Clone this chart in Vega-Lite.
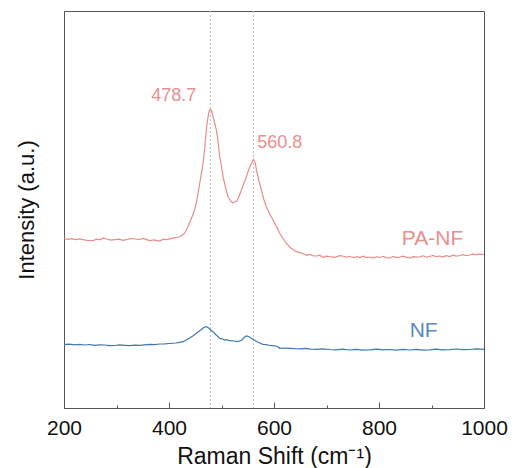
{
  "$schema": "https://vega.github.io/schema/vega-lite/v6.json",
  "width": 420,
  "height": 397,
  "autosize": "none",
  "padding": {"left": 64, "top": 11, "right": 28, "bottom": 60},
  "background": "white",
  "config": {
    "font": "Liberation Sans",
    "view": {"stroke": "#555555", "strokeWidth": 1}
  },
  "datasets": {
    "spectra": [
      {"series": "PA-NF", "shift": 200, "intensity": 169.5},
      {"series": "PA-NF", "shift": 207, "intensity": 168.6},
      {"series": "PA-NF", "shift": 215, "intensity": 169.4},
      {"series": "PA-NF", "shift": 222, "intensity": 168.4},
      {"series": "PA-NF", "shift": 230, "intensity": 169.2},
      {"series": "PA-NF", "shift": 238, "intensity": 168.2},
      {"series": "PA-NF", "shift": 245, "intensity": 167.6},
      {"series": "PA-NF", "shift": 255, "intensity": 167.3},
      {"series": "PA-NF", "shift": 262, "intensity": 168.9},
      {"series": "PA-NF", "shift": 268, "intensity": 168.2},
      {"series": "PA-NF", "shift": 275, "intensity": 170.1},
      {"series": "PA-NF", "shift": 281, "intensity": 169.0},
      {"series": "PA-NF", "shift": 289, "intensity": 167.8},
      {"series": "PA-NF", "shift": 297, "intensity": 168.4},
      {"series": "PA-NF", "shift": 305, "intensity": 168.8},
      {"series": "PA-NF", "shift": 312, "intensity": 167.6},
      {"series": "PA-NF", "shift": 319, "intensity": 168.3},
      {"series": "PA-NF", "shift": 327, "intensity": 169.5},
      {"series": "PA-NF", "shift": 335, "intensity": 169.0},
      {"series": "PA-NF", "shift": 342, "intensity": 168.3},
      {"series": "PA-NF", "shift": 350, "intensity": 169.6},
      {"series": "PA-NF", "shift": 356, "intensity": 168.6},
      {"series": "PA-NF", "shift": 363, "intensity": 167.4},
      {"series": "PA-NF", "shift": 372, "intensity": 168.2},
      {"series": "PA-NF", "shift": 382, "intensity": 167.0},
      {"series": "PA-NF", "shift": 389, "intensity": 168.8},
      {"series": "PA-NF", "shift": 396, "intensity": 168.4},
      {"series": "PA-NF", "shift": 402, "intensity": 169.2},
      {"series": "PA-NF", "shift": 407, "intensity": 169.8},
      {"series": "PA-NF", "shift": 414, "intensity": 170.3},
      {"series": "PA-NF", "shift": 420, "intensity": 171.3},
      {"series": "PA-NF", "shift": 425, "intensity": 172.6},
      {"series": "PA-NF", "shift": 430, "intensity": 175},
      {"series": "PA-NF", "shift": 436, "intensity": 181.3},
      {"series": "PA-NF", "shift": 443, "intensity": 190},
      {"series": "PA-NF", "shift": 448, "intensity": 197},
      {"series": "PA-NF", "shift": 452, "intensity": 205},
      {"series": "PA-NF", "shift": 458, "intensity": 223},
      {"series": "PA-NF", "shift": 465, "intensity": 245},
      {"series": "PA-NF", "shift": 468, "intensity": 260},
      {"series": "PA-NF", "shift": 471, "intensity": 278},
      {"series": "PA-NF", "shift": 474, "intensity": 290},
      {"series": "PA-NF", "shift": 476.5, "intensity": 297},
      {"series": "PA-NF", "shift": 478.7, "intensity": 298.8},
      {"series": "PA-NF", "shift": 481, "intensity": 297.5},
      {"series": "PA-NF", "shift": 484, "intensity": 291.3},
      {"series": "PA-NF", "shift": 487, "intensity": 285},
      {"series": "PA-NF", "shift": 490.3, "intensity": 278},
      {"series": "PA-NF", "shift": 493.7, "intensity": 265},
      {"series": "PA-NF", "shift": 496.6, "intensity": 251.3},
      {"series": "PA-NF", "shift": 500.4, "intensity": 240},
      {"series": "PA-NF", "shift": 502.9, "intensity": 231.3},
      {"series": "PA-NF", "shift": 508, "intensity": 220},
      {"series": "PA-NF", "shift": 512.4, "intensity": 211.3},
      {"series": "PA-NF", "shift": 517.5, "intensity": 207},
      {"series": "PA-NF", "shift": 521.9, "intensity": 205.3},
      {"series": "PA-NF", "shift": 525.1, "intensity": 206},
      {"series": "PA-NF", "shift": 529.5, "intensity": 207.3},
      {"series": "PA-NF", "shift": 533.7, "intensity": 212},
      {"series": "PA-NF", "shift": 537.9, "intensity": 218},
      {"series": "PA-NF", "shift": 542.3, "intensity": 224},
      {"series": "PA-NF", "shift": 547.4, "intensity": 231.3},
      {"series": "PA-NF", "shift": 550.9, "intensity": 237},
      {"series": "PA-NF", "shift": 553.7, "intensity": 240.7},
      {"series": "PA-NF", "shift": 557.5, "intensity": 245},
      {"series": "PA-NF", "shift": 560.8, "intensity": 248.7},
      {"series": "PA-NF", "shift": 564.2, "intensity": 245},
      {"series": "PA-NF", "shift": 566.5, "intensity": 238},
      {"series": "PA-NF", "shift": 570.9, "intensity": 228},
      {"series": "PA-NF", "shift": 576, "intensity": 218},
      {"series": "PA-NF", "shift": 580.4, "intensity": 209},
      {"series": "PA-NF", "shift": 585.5, "intensity": 201.3},
      {"series": "PA-NF", "shift": 591.8, "intensity": 194},
      {"series": "PA-NF", "shift": 598.1, "intensity": 188},
      {"series": "PA-NF", "shift": 605.1, "intensity": 181},
      {"series": "PA-NF", "shift": 610.9, "intensity": 174.7},
      {"series": "PA-NF", "shift": 616.6, "intensity": 170},
      {"series": "PA-NF", "shift": 623.6, "intensity": 164.7},
      {"series": "PA-NF", "shift": 631.8, "intensity": 160},
      {"series": "PA-NF", "shift": 642.7, "intensity": 156.3},
      {"series": "PA-NF", "shift": 654.7, "intensity": 154.5},
      {"series": "PA-NF", "shift": 662, "intensity": 152.7},
      {"series": "PA-NF", "shift": 668, "intensity": 153.5},
      {"series": "PA-NF", "shift": 675, "intensity": 152.2},
      {"series": "PA-NF", "shift": 681.3, "intensity": 152},
      {"series": "PA-NF", "shift": 687, "intensity": 152.8},
      {"series": "PA-NF", "shift": 693.3, "intensity": 150.7},
      {"series": "PA-NF", "shift": 700, "intensity": 151.8},
      {"series": "PA-NF", "shift": 706.1, "intensity": 151.5},
      {"series": "PA-NF", "shift": 712, "intensity": 150.6},
      {"series": "PA-NF", "shift": 718.9, "intensity": 151.2},
      {"series": "PA-NF", "shift": 725, "intensity": 152.4},
      {"series": "PA-NF", "shift": 730.9, "intensity": 152},
      {"series": "PA-NF", "shift": 737, "intensity": 150.9},
      {"series": "PA-NF", "shift": 744.2, "intensity": 151.5},
      {"series": "PA-NF", "shift": 752, "intensity": 150.3},
      {"series": "PA-NF", "shift": 758, "intensity": 151.4},
      {"series": "PA-NF", "shift": 763.2, "intensity": 150.5},
      {"series": "PA-NF", "shift": 770, "intensity": 151.8},
      {"series": "PA-NF", "shift": 776, "intensity": 150.4},
      {"series": "PA-NF", "shift": 782.3, "intensity": 151},
      {"series": "PA-NF", "shift": 790, "intensity": 149.8},
      {"series": "PA-NF", "shift": 795, "intensity": 151.3},
      {"series": "PA-NF", "shift": 801.3, "intensity": 150.5},
      {"series": "PA-NF", "shift": 808, "intensity": 151.7},
      {"series": "PA-NF", "shift": 814, "intensity": 150.2},
      {"series": "PA-NF", "shift": 820.4, "intensity": 150},
      {"series": "PA-NF", "shift": 827, "intensity": 151.5},
      {"series": "PA-NF", "shift": 833, "intensity": 150.4},
      {"series": "PA-NF", "shift": 839.4, "intensity": 151},
      {"series": "PA-NF", "shift": 846, "intensity": 151.9},
      {"series": "PA-NF", "shift": 852, "intensity": 150.6},
      {"series": "PA-NF", "shift": 858.5, "intensity": 150},
      {"series": "PA-NF", "shift": 865, "intensity": 151.4},
      {"series": "PA-NF", "shift": 871, "intensity": 150.8},
      {"series": "PA-NF", "shift": 877.5, "intensity": 151},
      {"series": "PA-NF", "shift": 884, "intensity": 152.2},
      {"series": "PA-NF", "shift": 890, "intensity": 150.9},
      {"series": "PA-NF", "shift": 896.6, "intensity": 151.5},
      {"series": "PA-NF", "shift": 903, "intensity": 152.6},
      {"series": "PA-NF", "shift": 909, "intensity": 151.3},
      {"series": "PA-NF", "shift": 915.6, "intensity": 152},
      {"series": "PA-NF", "shift": 922, "intensity": 151},
      {"series": "PA-NF", "shift": 928, "intensity": 152.3},
      {"series": "PA-NF", "shift": 934.7, "intensity": 151.5},
      {"series": "PA-NF", "shift": 941, "intensity": 152.8},
      {"series": "PA-NF", "shift": 947, "intensity": 151.9},
      {"series": "PA-NF", "shift": 953.7, "intensity": 152.5},
      {"series": "PA-NF", "shift": 960, "intensity": 153.4},
      {"series": "PA-NF", "shift": 966, "intensity": 152.4},
      {"series": "PA-NF", "shift": 972.8, "intensity": 153},
      {"series": "PA-NF", "shift": 979, "intensity": 154},
      {"series": "PA-NF", "shift": 985, "intensity": 153.1},
      {"series": "PA-NF", "shift": 991, "intensity": 153.8},
      {"series": "PA-NF", "shift": 1000, "intensity": 153.5},
      {"series": "NF", "shift": 200, "intensity": 63.5},
      {"series": "NF", "shift": 210, "intensity": 63.9},
      {"series": "NF", "shift": 220.4, "intensity": 63.2},
      {"series": "NF", "shift": 230, "intensity": 63.6},
      {"series": "NF", "shift": 239.4, "intensity": 63},
      {"series": "NF", "shift": 249, "intensity": 63.5},
      {"series": "NF", "shift": 258.5, "intensity": 62.7},
      {"series": "NF", "shift": 268, "intensity": 63.2},
      {"series": "NF", "shift": 277.5, "intensity": 63},
      {"series": "NF", "shift": 287, "intensity": 62.4},
      {"series": "NF", "shift": 296.6, "intensity": 62.5},
      {"series": "NF", "shift": 306, "intensity": 63.1},
      {"series": "NF", "shift": 315.6, "intensity": 62.7},
      {"series": "NF", "shift": 325, "intensity": 62.3},
      {"series": "NF", "shift": 334.7, "intensity": 62.8},
      {"series": "NF", "shift": 344, "intensity": 62.6},
      {"series": "NF", "shift": 353.7, "intensity": 63.2},
      {"series": "NF", "shift": 363.2, "intensity": 63.7},
      {"series": "NF", "shift": 372, "intensity": 63.4},
      {"series": "NF", "shift": 382.3, "intensity": 64},
      {"series": "NF", "shift": 392, "intensity": 64.2},
      {"series": "NF", "shift": 401.3, "intensity": 64.5},
      {"series": "NF", "shift": 412.8, "intensity": 65},
      {"series": "NF", "shift": 420, "intensity": 65.6},
      {"series": "NF", "shift": 426.7, "intensity": 66.3},
      {"series": "NF", "shift": 433, "intensity": 68},
      {"series": "NF", "shift": 439.4, "intensity": 70},
      {"series": "NF", "shift": 446, "intensity": 72.3},
      {"series": "NF", "shift": 452.2, "intensity": 74.7},
      {"series": "NF", "shift": 460.4, "intensity": 78},
      {"series": "NF", "shift": 466.1, "intensity": 80.5},
      {"series": "NF", "shift": 471.2, "intensity": 81.3},
      {"series": "NF", "shift": 475.6, "intensity": 80},
      {"series": "NF", "shift": 479.4, "intensity": 78},
      {"series": "NF", "shift": 483.8, "intensity": 76.3},
      {"series": "NF", "shift": 488.9, "intensity": 73.5},
      {"series": "NF", "shift": 496.6, "intensity": 69.7},
      {"series": "NF", "shift": 501, "intensity": 69.2},
      {"series": "NF", "shift": 506.1, "intensity": 68},
      {"series": "NF", "shift": 510, "intensity": 68.4},
      {"series": "NF", "shift": 515.6, "intensity": 67.3},
      {"series": "NF", "shift": 523.2, "intensity": 67},
      {"series": "NF", "shift": 531.4, "intensity": 66.3},
      {"series": "NF", "shift": 538.5, "intensity": 68},
      {"series": "NF", "shift": 543.2, "intensity": 70.5},
      {"series": "NF", "shift": 547.4, "intensity": 72},
      {"series": "NF", "shift": 551.8, "intensity": 71.5},
      {"series": "NF", "shift": 555.6, "intensity": 70},
      {"series": "NF", "shift": 560, "intensity": 68.7},
      {"series": "NF", "shift": 567, "intensity": 66.5},
      {"series": "NF", "shift": 572.8, "intensity": 65},
      {"series": "NF", "shift": 579, "intensity": 63.7},
      {"series": "NF", "shift": 585, "intensity": 63.3},
      {"series": "NF", "shift": 591.8, "intensity": 62.5},
      {"series": "NF", "shift": 597, "intensity": 62.3},
      {"series": "NF", "shift": 603.2, "intensity": 62},
      {"series": "NF", "shift": 607.6, "intensity": 61.3},
      {"series": "NF", "shift": 610.9, "intensity": 59.7},
      {"series": "NF", "shift": 620, "intensity": 60},
      {"series": "NF", "shift": 629.9, "intensity": 59.7},
      {"series": "NF", "shift": 640, "intensity": 59.3},
      {"series": "NF", "shift": 649, "intensity": 59.2},
      {"series": "NF", "shift": 660, "intensity": 59.6},
      {"series": "NF", "shift": 670, "intensity": 58.9},
      {"series": "NF", "shift": 680.8, "intensity": 58.7},
      {"series": "NF", "shift": 692, "intensity": 59.2},
      {"series": "NF", "shift": 706.1, "intensity": 58.5},
      {"series": "NF", "shift": 718, "intensity": 58.1},
      {"series": "NF", "shift": 730, "intensity": 58.9},
      {"series": "NF", "shift": 744.2, "intensity": 58},
      {"series": "NF", "shift": 756, "intensity": 58.6},
      {"series": "NF", "shift": 770, "intensity": 57.9},
      {"series": "NF", "shift": 782.3, "intensity": 58.2},
      {"series": "NF", "shift": 795, "intensity": 58.8},
      {"series": "NF", "shift": 808, "intensity": 58.1},
      {"series": "NF", "shift": 820.4, "intensity": 58.5},
      {"series": "NF", "shift": 833, "intensity": 57.8},
      {"series": "NF", "shift": 846, "intensity": 58.6},
      {"series": "NF", "shift": 858.5, "intensity": 58},
      {"series": "NF", "shift": 871, "intensity": 58.7},
      {"series": "NF", "shift": 884, "intensity": 57.9},
      {"series": "NF", "shift": 896.6, "intensity": 58.2},
      {"series": "NF", "shift": 909, "intensity": 58.9},
      {"series": "NF", "shift": 922, "intensity": 58.1},
      {"series": "NF", "shift": 934.7, "intensity": 58.4},
      {"series": "NF", "shift": 947, "intensity": 59},
      {"series": "NF", "shift": 960, "intensity": 58.3},
      {"series": "NF", "shift": 972.8, "intensity": 58.5},
      {"series": "NF", "shift": 986, "intensity": 59.1},
      {"series": "NF", "shift": 1000, "intensity": 58.7}
    ],
    "peaks": [
      {"shift": 478.7},
      {"shift": 560.8}
    ],
    "labels": [
      {"text": "478.7", "shift": 409, "intensity": 312.5, "series": "PA-NF", "size": 18},
      {"text": "560.8", "shift": 611, "intensity": 265.5, "series": "PA-NF", "size": 18},
      {"text": "PA-NF", "shift": 902, "intensity": 169, "series": "PA-NF", "size": 21},
      {"text": "NF", "shift": 885, "intensity": 77.5, "series": "NF", "size": 21}
    ]
  },
  "layer": [
    {
      "data": {"name": "peaks"},
      "mark": {"type": "rule", "color": "#bdbdbd", "strokeWidth": 1, "strokeDash": [2, 2]},
      "encoding": {
        "x": {
          "field": "shift",
          "type": "quantitative",
          "scale": {"domain": [200, 1000], "nice": false, "zero": false},
          "axis": {
            "orient": "bottom",
            "values": [300, 500, 700, 900],
            "labels": false,
            "domain": false,
            "grid": false,
            "tickSize": -3,
            "tickColor": "#555555",
            "title": null
          }
        }
      }
    },
    {
      "data": {"name": "spectra"},
      "mark": {"type": "line", "strokeWidth": 1.2},
      "encoding": {
        "x": {
          "field": "shift",
          "type": "quantitative",
          "scale": {"domain": [200, 1000], "nice": false, "zero": false},
          "axis": {
            "orient": "bottom",
            "values": [200, 400, 600, 800, 1000],
            "format": "d",
            "grid": false,
            "tickSize": -6,
            "tickColor": "#555555",
            "domainColor": "#555555",
            "labelFontSize": 21,
            "labelColor": "#111111",
            "labelPadding": 15,
            "labelFlush": false,
            "title": "Raman Shift (cm⁻¹)",
            "titleFontSize": 23,
            "titleFontWeight": "normal",
            "titleColor": "#111111",
            "titlePadding": 7
          }
        },
        "y": {
          "field": "intensity",
          "type": "quantitative",
          "scale": {"domain": [0, 397], "nice": false, "zero": false},
          "axis": {
            "labels": false,
            "ticks": false,
            "domain": false,
            "grid": false,
            "title": "Intensity (a.u.)",
            "titleFontSize": 22,
            "titleFontWeight": "normal",
            "titleColor": "#111111",
            "titlePadding": 26
          }
        },
        "color": {
          "field": "series",
          "type": "nominal",
          "scale": {"domain": ["PA-NF", "NF"], "range": ["#ec8a8a", "#3b78b4"]},
          "legend": null
        },
        "detail": {"field": "series"}
      }
    },
    {
      "data": {"name": "labels"},
      "mark": {"type": "text", "align": "center", "baseline": "middle"},
      "encoding": {
        "x": {"field": "shift", "type": "quantitative", "scale": {"domain": [200, 1000], "nice": false, "zero": false}, "axis": null},
        "y": {"field": "intensity", "type": "quantitative", "scale": {"domain": [0, 397], "nice": false, "zero": false}, "axis": null},
        "text": {"field": "text"},
        "size": {"field": "size", "type": "quantitative", "scale": null},
        "color": {
          "field": "series",
          "type": "nominal",
          "scale": {"domain": ["PA-NF", "NF"], "range": ["#e98f8f", "#5a89c2"]},
          "legend": null
        }
      }
    }
  ],
  "resolve": {"axis": {"x": "independent", "y": "independent"}, "scale": {"color": "independent"}}
}
